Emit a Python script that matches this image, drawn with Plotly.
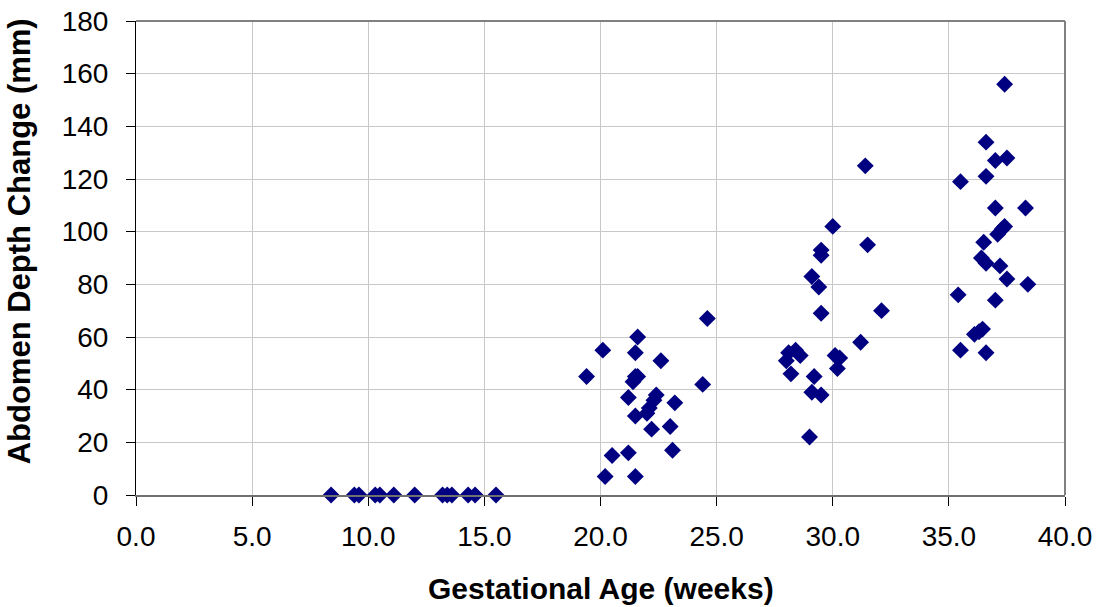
import plotly.graph_objects as go

# Gestational age (weeks)
weeks = [
    8.4, 9.4, 9.6, 10.3, 10.5, 11.1, 12.0, 13.2, 13.4, 13.6, 14.3, 14.6, 15.5,
    19.4, 20.1, 20.2, 20.5, 21.2, 21.2, 21.4, 21.5, 21.5, 21.5, 21.6, 21.6,
    21.5, 22.0, 22.1, 22.3, 22.4, 22.2, 22.6, 23.0, 23.1, 23.2, 24.4, 24.6,
    28.0, 28.1, 28.2, 28.4, 28.6, 29.0, 29.1, 29.2, 29.1, 29.4, 29.5, 29.5,
    29.5, 29.5, 30.0, 30.1, 30.2, 30.3, 31.2, 31.4, 31.5, 32.1,
    35.4, 35.5, 35.5, 36.1, 36.3, 36.45, 36.4, 36.5, 36.6, 36.6, 36.6, 36.6,
    37.0, 37.0, 37.0, 37.1, 37.2, 37.3, 37.4, 37.4, 37.5, 37.5, 38.3, 38.4,
]

# Abdomen depth change (mm)
depth_change = [
    0, 0, 0, 0, 0, 0, 0, 0, 0, 0, 0, 0, 0,
    45, 55, 7, 15, 37, 16, 43, 54, 30, 7, 60, 45,
    45, 31, 33, 36, 38, 25, 51, 26, 17, 35, 42, 67,
    51, 54, 46, 55, 53, 22, 39, 45, 83, 79, 93, 91,
    69, 38, 102, 53, 48, 52, 58, 125, 95, 70,
    76, 55, 119, 61, 62, 63, 90, 96, 134, 121, 88, 54,
    127, 74, 109, 99, 87, 101, 156, 102, 128, 82, 109, 80,
]

x_ticks = [0, 5, 10, 15, 20, 25, 30, 35, 40]
x_tick_labels = ["0.0", "5.0", "10.0", "15.0", "20.0", "25.0", "30.0", "35.0", "40.0"]
y_ticks = [0, 20, 40, 60, 80, 100, 120, 140, 160, 180]

FONT = "Liberation Sans, Arial, sans-serif"

fig = go.Figure()
fig.add_trace(go.Scatter(
    x=weeks, y=depth_change, mode="markers",
    marker=dict(symbol="diamond", size=13, color="#000080",
                line=dict(width=0)),
    showlegend=False, cliponaxis=False,
))

fig.update_layout(
    width=1102, height=607,
    margin=dict(l=136, r=37, t=21, b=112, autoexpand=False),
    paper_bgcolor="white", plot_bgcolor="white",
    font=dict(family=FONT, color="black"),
    xaxis=dict(
        range=[0, 40], tickvals=x_ticks, ticktext=x_tick_labels,
        showgrid=True, gridcolor="#c8c8c8", gridwidth=1,
        zeroline=False, showline=True, linecolor="#707070", linewidth=2,
        ticks="outside", ticklen=9, tickcolor="black", tickwidth=1,
        tickfont=dict(size=28, family=FONT, color="black"),
        ticklabelstandoff=6, automargin=False,
        fixedrange=True,
    ),
    yaxis=dict(
        range=[0, 180], tickvals=y_ticks,
        showgrid=True, gridcolor="#c8c8c8", gridwidth=1,
        zeroline=False, showline=True, linecolor="black", linewidth=1,
        ticks="outside", ticklen=9, tickcolor="black", tickwidth=1,
        tickfont=dict(size=28, family=FONT, color="black"),
        ticklabelstandoff=12, automargin=False,
        fixedrange=True,
    ),
    shapes=[
        dict(type="line", xref="paper", yref="paper", x0=0, x1=1, y0=1, y1=1,
             line=dict(color="#808080", width=2)),
        dict(type="line", xref="paper", yref="paper", x0=1, x1=1, y0=0, y1=1,
             line=dict(color="#808080", width=2)),
    ],
    annotations=[
        dict(text="<b>Gestational Age (weeks)</b>", xref="paper", yref="paper",
             x=0.5, y=-0.198, xanchor="center", yanchor="middle", showarrow=False,
             font=dict(size=30, family=FONT, color="black")),
        dict(text="<b>Abdomen Depth Change (mm)</b>", xref="paper", yref="paper",
             x=-0.126, y=0.535, xanchor="center", yanchor="middle", showarrow=False,
             textangle=-90, font=dict(size=31, family=FONT, color="black")),
    ],
)

fig.write_html("out.html", config={"displayModeBar": False},
               post_script="document.body.style.margin='0px';")
